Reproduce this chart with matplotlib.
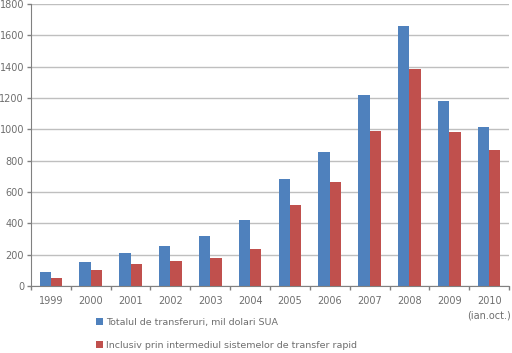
import matplotlib
matplotlib.use("Agg")
import matplotlib.pyplot as plt
import numpy as np

years = ["1999", "2000", "2001", "2002", "2003", "2004", "2005", "2006",
         "2007", "2008", "2009", "2010\n(ian.oct.)"]
total = [91, 155, 213, 257, 321, 423, 685, 857, 1221, 1661, 1183, 1017]
rapid = [53, 104, 142, 161, 181, 238, 519, 666, 991, 1387, 985, 870]
labels = ["Totalul de transferuri, mil dolari SUA",
          "Inclusiv prin intermediul sistemelor de transfer rapid"]
colors = ["#4F81BD", "#C0504D"]
txt = "#6e6e6e"

fig = plt.figure(figsize=(5.12, 3.53), dpi=100)
ax = fig.add_axes([31 / 512, 67 / 353, 478 / 512, 282 / 353])

x = np.arange(len(years))
w = 1 / 3.5
ax.bar(x - w / 2, total, width=w, color=colors[0], label=labels[0])
ax.bar(x + w / 2, rapid, width=w, color=colors[1], label=labels[1])

ax.set_xlim(-0.5, len(years) - 0.5)
ax.set_ylim(0, 1800)
ax.set_yticks(range(0, 1801, 200))
ax.yaxis.grid(True, color="#bfbfbf", lw=1)
ax.set_axisbelow(True)

ax.set_xticks(x)
ax.set_xticklabels(years, fontsize=7, color=txt, linespacing=1.6)
ax.set_xticks(np.arange(-0.5, len(years)), minor=True)
ax.tick_params(axis="x", which="major", length=0, pad=7)
ax.tick_params(axis="x", which="minor", length=3, color="#808080", width=1)
ax.tick_params(axis="y", length=3, color="#808080", width=1, labelsize=7,
               labelcolor=txt, pad=2)

for s in ["top", "right"]:
    ax.spines[s].set_visible(False)
for s in ["left", "bottom"]:
    ax.spines[s].set_color("#808080")

fig.legend(loc="upper left", bbox_to_anchor=(96 / 512, 1 - 318 / 353),
           frameon=False, fontsize=6.8, labelcolor=txt, handlelength=0.75,
           handleheight=0.8, handletextpad=0.35, labelspacing=1.45,
           borderpad=0, borderaxespad=0)

fig.savefig("out.png", dpi=100)
